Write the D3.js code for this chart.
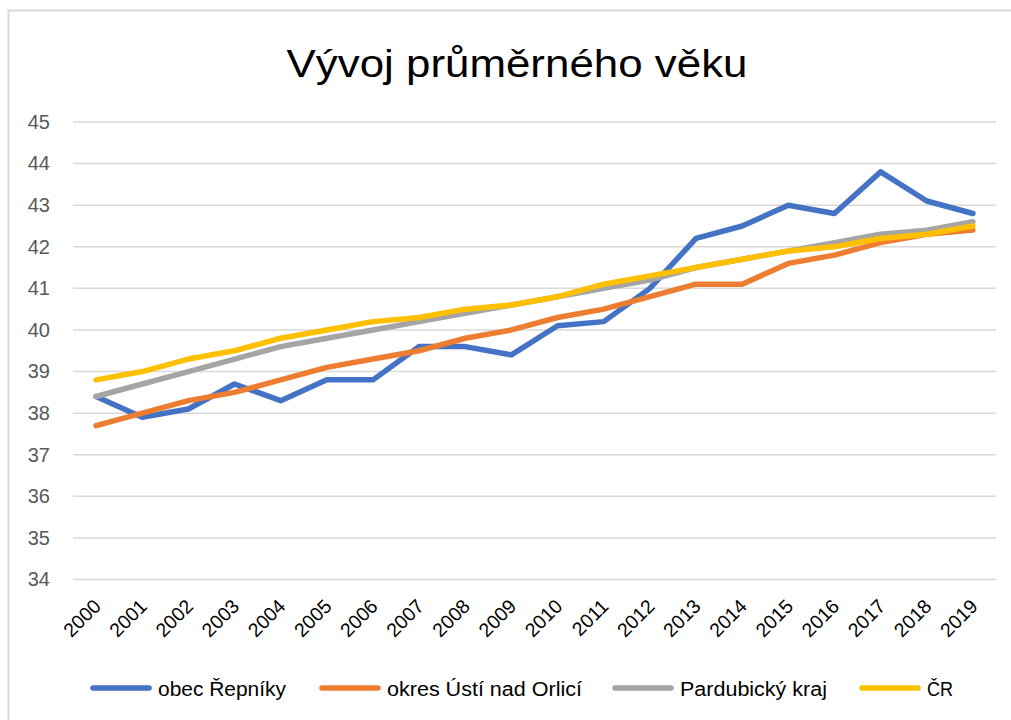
<!DOCTYPE html>
<html><head><meta charset="utf-8">
<script src="https://cdn.jsdelivr.net/npm/d3@7"></script>
<style>body{margin:0;background:#fff}svg{display:block}</style>
</head><body>
<svg id="c" width="1011" height="720"></svg>
<script>
const years = ["2000","2001","2002","2003","2004","2005","2006","2007","2008","2009","2010","2011","2012","2013","2014","2015","2016","2017","2018","2019"];
const obec = [38.4,37.9,38.1,38.7,38.3,38.8,38.8,39.6,39.6,39.4,40.1,40.2,41.0,42.2,42.5,43.0,42.8,43.8,43.1,42.8];
const okres = [37.7,38.0,38.3,38.5,38.8,39.1,39.3,39.5,39.8,40.0,40.3,40.5,40.8,41.1,41.1,41.6,41.8,42.1,42.3,42.4];
const kraj = [38.4,38.7,39.0,39.3,39.6,39.8,40.0,40.2,40.4,40.6,40.8,41.0,41.2,41.5,41.7,41.9,42.1,42.3,42.4,42.6];
const cr = [38.8,39.0,39.3,39.5,39.8,40.0,40.2,40.3,40.5,40.6,40.8,41.1,41.3,41.5,41.7,41.9,42.0,42.2,42.3,42.5];
const seriesNames = ["obec Řepníky","okres Ústí nad Orlicí","Pardubický kraj","ČR"];
const yTicks = [34,35,36,37,38,39,40,41,42,43,44,45];
const title = "Vývoj průměrného věku";

const colors = ["#4472C4","#ED7D31","#A5A5A5","#FFC000"];
const series = [obec, okres, kraj, cr];
const font = "'Liberation Sans', Arial, sans-serif";

const svg = d3.select("#c");
// chart frame
svg.append("rect").attr("x",8.5).attr("y",10.5).attr("width",1100).attr("height",800)
  .attr("fill","#fff").attr("stroke","#d9d9d9").attr("stroke-width",2);

svg.append("text").attr("x",517).attr("y",77).attr("text-anchor","middle")
  .attr("font-family",font).attr("font-size",38).attr("fill","#000")
  .attr("textLength",461).attr("lengthAdjust","spacingAndGlyphs").text(title);

const x = d3.scaleBand().domain(years).range([73,996]);
const y = d3.scaleLinear().domain([34,45]).range([579.5,122]);

// gridlines
svg.append("g").selectAll("line").data(yTicks).join("line")
  .attr("x1",73).attr("x2",996).attr("y1",d=>y(d)).attr("y2",d=>y(d))
  .attr("stroke","#d9d9d9").attr("stroke-width",1.5);

// y axis
const ya = svg.append("g").attr("transform","translate(73,0)")
  .call(d3.axisLeft(y).tickValues(yTicks).tickSize(0).tickPadding(23).tickFormat(d3.format("d")));
ya.select(".domain").remove();
ya.selectAll("text").attr("font-family",font).attr("font-size",20).attr("fill","#595959");

// x axis
const xa = svg.append("g").attr("transform","translate(0,579.5)")
  .call(d3.axisBottom(x).tickSize(0).tickPadding(0));
xa.select(".domain").remove();
xa.selectAll("text").attr("font-family",font).attr("font-size",19.5).attr("fill","#000")
  .attr("text-anchor","end").attr("dy",0)
  .attr("transform","translate(6,28) rotate(-45)");

const line = d3.line().x((d,i)=>x(years[i])+x.bandwidth()/2).y(d=>y(d));
svg.append("g").selectAll("path").data(series).join("path")
  .attr("d",d=>line(d)).attr("fill","none").attr("stroke",(d,i)=>colors[i])
  .attr("stroke-width",5.5).attr("stroke-linecap","round").attr("stroke-linejoin","round");

// legend
const legX = [93,322,615,862];
const legW = [128,195,147,26];
const lg = svg.append("g");
seriesNames.forEach((n,i)=>{
  lg.append("line").attr("x1",legX[i]).attr("x2",legX[i]+56).attr("y1",688).attr("y2",688)
    .attr("stroke",colors[i]).attr("stroke-width",5.5).attr("stroke-linecap","round");
  lg.append("text").attr("x",legX[i]+65).attr("y",696).attr("font-family",font)
    .attr("font-size",20).attr("fill","#000")
    .attr("textLength",legW[i]).attr("lengthAdjust","spacingAndGlyphs").text(n);
});
</script>
</body></html>
